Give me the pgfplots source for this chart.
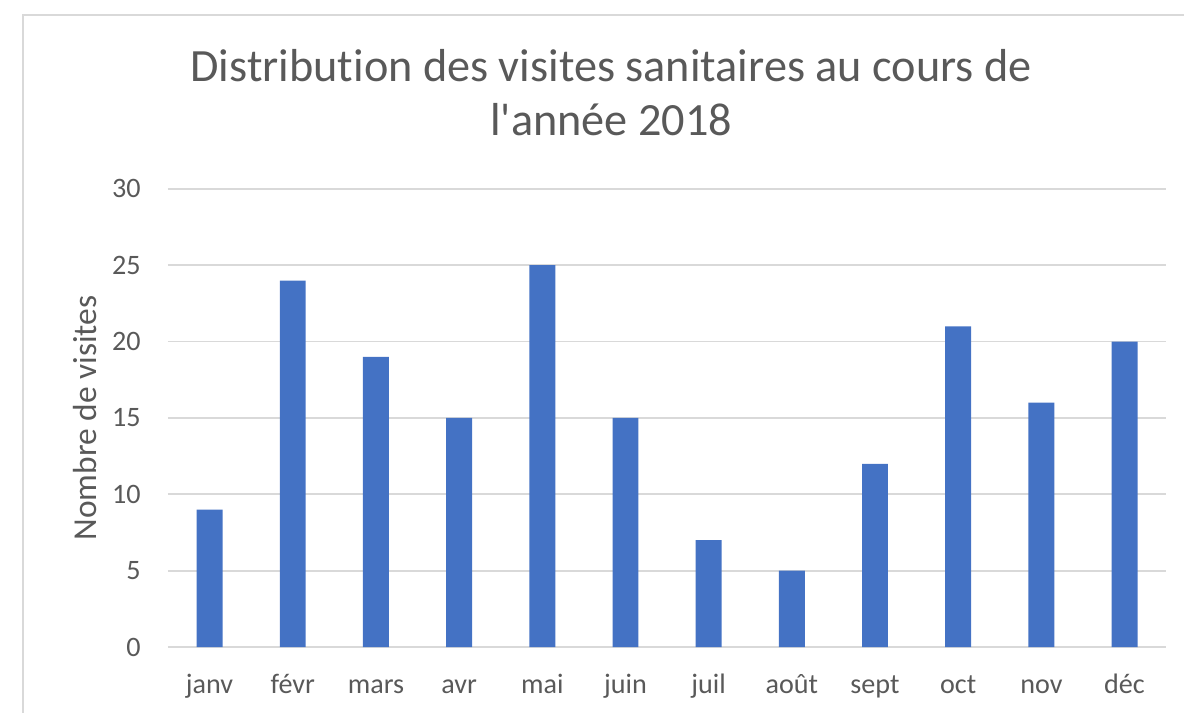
\documentclass[border=0pt]{standalone}
\usepackage{fontspec}
\setmainfont{Carlito}
\usepackage{pgfplots}
\pgfplotsset{compat=1.18}
\definecolor{barc}{HTML}{4472C4}
\definecolor{txt}{HTML}{595959}
\definecolor{grd}{HTML}{D9D9D9}
\begin{document}
\begin{tikzpicture}
\begin{axis}[
  scale only axis, width=319.4pt, height=146.6pt,
  at={(0,0)}, anchor=south west,
  xmin=-0.5, xmax=11.5, ymin=0, ymax=30,
  ytick={0,5,...,30},
  xtick={0,...,11},
  xticklabels={janv,févr,mars,avr,mai,juin,juil,août,sept,oct,nov,déc},
  axis line style={draw=none},
  major tick length=0pt,
  ymajorgrids, grid style={grd, line width=0.55pt},
  tick label style={font=\fontsize{9}{11}\selectfont, text=txt},
  /pgf/number format/assume math mode=true,
  yticklabel style={xshift=-5.2pt},
  xticklabel style={text height=6.5pt, yshift=-4.9pt},
  ylabel={Nombre de visites},
  ylabel style={font=\fontsize{10.7}{12}\selectfont, text=txt, at={(axis description cs:-0.0833,0.5)}, anchor=center},
]
\addplot[ybar, bar width=8.3pt, fill=barc, draw=none] coordinates {
(0,9) (1,24) (2,19) (3,15) (4,25) (5,15) (6,7) (7,5) (8,12) (9,21) (10,16) (11,20)
};
\end{axis}
\node[anchor=base, font=\fontsize{14.8}{17}\selectfont\addfontfeature{Ligatures=NoCommon}, text=txt] at (141.8pt,180.8pt) {Distribution des visites sanitaires au cours de};
\node[anchor=base, font=\fontsize{14.8}{17}\selectfont, text=txt] at (141.8pt,163.8pt) {l\textquotesingle année 2018};
\draw[grd, line width=0.7pt] (-46.4pt,-30pt) -- (-46.4pt,202.2pt) -- (340pt,202.2pt);
\pgfresetboundingbox
\useasboundingbox (-53.76pt,-20.8pt) rectangle (325.12pt,207.04pt);
\end{tikzpicture}
\end{document}
